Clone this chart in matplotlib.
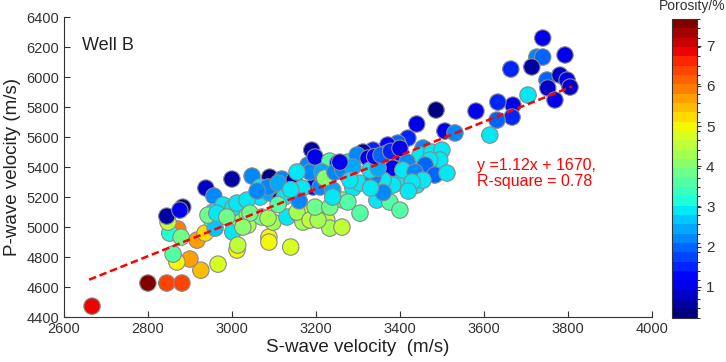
import matplotlib
matplotlib.use("Agg")
import matplotlib.pyplot as plt
import numpy as np
from matplotlib.colors import BoundaryNorm, ListedColormap

plt.rcParams['font.family'] = ['Liberation Sans', 'DejaVu Sans']

# S-wave velocity (m/s), P-wave velocity (m/s), porosity (%)
vs = [2667, 2800, 2845, 2881, 2926, 2967, 2900, 2869, 2860, 2917,
      2936, 2871, 2852, 2879, 2848, 2845, 2883, 2876, 3012, 3088,
      3088, 3140, 2938, 2957, 2955, 2952, 2960, 3002, 3002, 3019,
      3038, 3036, 3071, 3098, 3067, 3090, 3114, 3145, 3131, 3157,
      3169, 3193, 3210, 3226, 3233, 3262, 3264, 3288, 3305, 3345,
      3376, 3400, 3276, 3179, 3210, 3240, 3305, 3393, 3440, 3000,
      3048, 3090, 3119, 3148, 3181, 3186, 3155, 3190, 3198, 3233,
      3252, 3276, 3214, 3221, 3245, 3264, 3067, 3086, 3110, 3167,
      2979, 3002, 2943, 2964, 2988, 3012, 3036, 3043, 3086, 3155,
      3186, 3205, 3198, 3233, 3026, 3014, 3419, 3395, 3371, 3336,
      3312, 3298, 3324, 3369, 3400, 3455, 3448, 3476, 3500, 3495,
      3471, 3460, 3417, 3383, 3407, 3436, 3483, 3512, 3455, 3429,
      3383, 3360, 3336, 3329, 3288, 3257, 3281, 3348, 3740, 3726,
      3740, 3793, 3714, 3664, 3750, 3781, 3798, 3805, 3752, 3769,
      3705, 3669, 3633, 3667, 3631, 3614, 3581, 3486, 3440, 3507,
      3531, 3340, 3355, 3378, 3400, 3125, 3160, 3140, 3420, 3360,
      3330, 3240, 3060, 3110]
vp = [4473, 4627, 4627, 4627, 4713, 4753, 4787, 4767, 4820, 4913,
      4960, 4987, 4960, 4933, 5033, 5073, 5133, 5113, 4847, 4933,
      4900, 4867, 5260, 5207, 5100, 5047, 4993, 5093, 4967, 5047,
      5013, 5093, 5067, 5033, 5200, 5227, 5180, 5227, 5067, 5093,
      5033, 5267, 5093, 5047, 4993, 5000, 5180, 5260, 5093, 5180,
      5167, 5113, 5167, 5093, 5267, 5247, 5293, 5293, 5280, 5320,
      5340, 5333, 5320, 5313, 5413, 5367, 5367, 5513, 5467, 5440,
      5427, 5433, 5367, 5327, 5367, 5380, 5267, 5267, 5293, 5260,
      5147, 5127, 5080, 5093, 5067, 5160, 5180, 5093, 5060, 5100,
      5047, 5047, 5133, 5133, 5000, 4880, 5593, 5560, 5547, 5513,
      5500, 5480, 5460, 5493, 5493, 5527, 5480, 5500, 5513, 5447,
      5447, 5413, 5433, 5393, 5380, 5367, 5347, 5360, 5313, 5300,
      5280, 5313, 5333, 5380, 5400, 5433, 5313, 5393, 6260, 6133,
      6133, 6147, 6067, 6053, 5980, 6013, 5980, 5933, 5927, 5847,
      5880, 5813, 5833, 5733, 5713, 5613, 5773, 5780, 5687, 5640,
      5627, 5470, 5480, 5505, 5525, 5200, 5175, 5250, 5240, 5230,
      5260, 5200, 5240, 5150]
porosity = [6.8, 7.5, 6.4, 6.4, 5.5, 4.8, 5.8, 4.9, 3.7, 5.7,
            5.3, 6.0, 3.1, 3.8, 4.5, 0.5, 0.4, 1.0, 4.9, 4.9,
            5.0, 4.8, 0.7, 2.3, 3.0, 3.7, 2.6, 3.0, 3.0, 4.0,
            4.3, 4.0, 3.8, 4.4, 3.0, 2.5, 0.7, 0.4, 3.0, 4.4,
            4.4, 1.0, 4.3, 4.5, 4.2, 4.5, 3.8, 3.0, 3.7, 3.0,
            3.6, 3.7, 3.7, 4.9, 2.3, 2.4, 3.0, 3.0, 3.0, 0.5,
            2.3, 0.4, 2.3, 0.5, 2.1, 2.3, 3.0, 0.6, 1.0, 3.6,
            1.2, 3.0, 2.4, 4.0, 2.3, 2.3, 3.0, 2.3, 2.4, 3.0,
            3.0, 3.0, 3.8, 3.0, 3.8, 3.0, 3.0, 3.8, 4.4, 4.2,
            4.5, 4.4, 3.8, 3.8, 4.0, 4.6, 1.5, 2.0, 1.2, 1.5,
            0.5, 2.3, 1.0, 2.0, 1.2, 2.3, 3.0, 3.0, 3.0, 3.0,
            3.0, 2.0, 2.3, 1.0, 3.0, 2.3, 2.0, 3.0, 3.0, 3.0,
            3.0, 3.0, 2.3, 3.0, 2.4, 1.0, 3.0, 2.5, 1.0, 2.3,
            2.0, 1.0, 0.6, 1.5, 2.0, 0.9, 1.0, 0.9, 0.9, 1.0,
            3.0, 1.0, 1.6, 1.6, 2.0, 3.0, 1.0, 0.4, 1.0, 1.0,
            2.2, 1.2, 2.0, 1.5, 1.0, 3.0, 2.3, 3.0, 3.0, 2.3,
            3.0, 3.0, 2.3, 3.6]

# linear fit shown on the chart
slope, intercept = 1.12, 1670
fit_x = np.array([2660, 3810])

pmin, pmax, nlev = 0.23, 7.67, 32
cmap = ListedColormap(plt.get_cmap('jet')(np.linspace(0, 1, nlev)))
norm = BoundaryNorm(np.linspace(pmin, pmax, nlev + 1), nlev)

fig = plt.figure(figsize=(7.26, 3.62), dpi=100)
ax = fig.add_axes([0.088, 0.124, 0.81, 0.829])

sc = ax.scatter(vs, vp, c=porosity, cmap=cmap, norm=norm, s=140,
                edgecolors='#8a8a8a', linewidths=0.8, zorder=2)
ax.plot(fit_x, slope * fit_x + intercept, color='red', linestyle='--',
        dashes=(3, 1.5), linewidth=1.8, zorder=3)

ax.set_xlim(2600, 4000)
ax.set_ylim(4400, 6400)
ax.set_xticks(np.arange(2600, 4001, 200))
ax.set_yticks(np.arange(4400, 6401, 200))
ax.spines['top'].set_visible(False)
ax.spines['right'].set_visible(False)
for s in ['left', 'bottom']:
    ax.spines[s].set_color('#333333')
ax.tick_params(direction='in', length=4, labelsize=10.5, colors='#333333')
ax.set_xlabel('S-wave velocity  (m/s)', fontsize=13.5, color='#222222', labelpad=2)
ax.set_ylabel('P-wave velocity (m/s)', fontsize=13.5, color='#222222', labelpad=4)

ax.text(2643, 6213, 'Well B', fontsize=13, color='#222222', va='center')
ax.text(3583, 5460, 'y =1.12x + 1670,\nR-square = 0.78', fontsize=11.5,
        color='red', linespacing=1.1, va='top')

cax = fig.add_axes([0.926, 0.122, 0.034, 0.826])
cb = fig.colorbar(sc, cax=cax, ticks=range(1, 8))
cb.ax.tick_params(labelsize=11, length=3, colors='#333333')
cb.outline.set_edgecolor('#333333')
fig.text(0.953, 0.965, 'Porosity/%', fontsize=10, ha='center', va='bottom', color='#333333')

fig.savefig('out.png', dpi=100)
